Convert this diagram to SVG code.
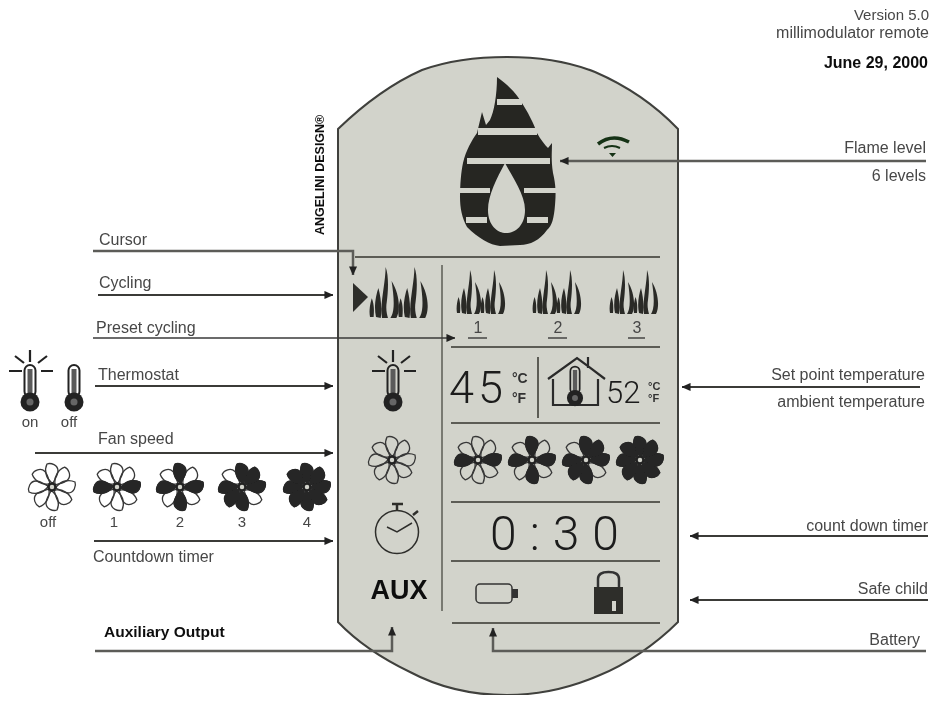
<svg xmlns="http://www.w3.org/2000/svg" xmlns:xlink="http://www.w3.org/1999/xlink" width="937" height="724" viewBox="0 0 937 724">
<style>
text{font-family:"Liberation Sans",Arial,sans-serif;fill:#474747}
.l{font-size:16px}
.r{text-anchor:end}
.m{text-anchor:middle}
.c{fill:none;stroke:#3a3a38;stroke-width:2.2}
.g{fill:none;stroke:#5c5c58;stroke-width:2.500}
.d{fill:none;stroke:#5b5c55;stroke-width:2}
.dig{font-family:Roboto,"Liberation Sans",sans-serif;font-weight:300;fill:#1b1b1b}
.bo{fill:none;stroke:#383838;stroke-width:1.300}
.bf{fill:#262626;stroke:#262626;stroke-width:1}
.unit{fill:#333;font-weight:bold}
.k{fill:#111;font-weight:bold}
</style>
<defs>
<filter id="soft" x="0" y="0" width="100%" height="100%"><feGaussianBlur stdDeviation="0.4"/></filter>
<marker id="a" viewBox="0 0 10 10" refX="9.500" refY="5" markerWidth="9" markerHeight="9" markerUnits="userSpaceOnUse" orient="auto"><path d="M0,0.500 L10,5 L0,9.500 Z" fill="#222"/></marker>
<path id="b" d="M-1,-5 C-6,-9 -8,-17 -5,-23 C-1,-24.500 6,-22 6,-16 C6,-12 3,-8 1,-4 Z"/>
<g id="fo"><g class="bo">
<use xlink:href="#b"/><use xlink:href="#b" transform="rotate(45)"/><use xlink:href="#b" transform="rotate(90)"/><use xlink:href="#b" transform="rotate(135)"/><use xlink:href="#b" transform="rotate(180)"/><use xlink:href="#b" transform="rotate(225)"/><use xlink:href="#b" transform="rotate(270)"/><use xlink:href="#b" transform="rotate(315)"/></g>
<circle r="3.500" fill="#d2d3cb" stroke="#222" stroke-width="2.500"/></g>
<g id="f1"><use xlink:href="#fo"/><g class="bf"><use xlink:href="#b" transform="rotate(90)"/><use xlink:href="#b" transform="rotate(270)"/></g></g>
<g id="f2"><use xlink:href="#f1"/><g class="bf"><use xlink:href="#b"/><use xlink:href="#b" transform="rotate(180)"/></g></g>
<g id="f3"><use xlink:href="#f2"/><g class="bf"><use xlink:href="#b" transform="rotate(45)"/><use xlink:href="#b" transform="rotate(225)"/></g></g>
<g id="f4"><use xlink:href="#f3"/><g class="bf"><use xlink:href="#b" transform="rotate(135)"/><use xlink:href="#b" transform="rotate(315)"/></g></g>
<path id="h" fill="#2a2a28" d="M0,43 C-1,38 0,32 1.500,27 C3.500,32 3.500,38 3,43 Z M5,43 C3,34 5,24 7,18 C9,26 10,34 9,44 Z M10,44 C8,32 13,14 13,0 C16,8 15,22 14,30 C13,36 14,40 15,44 Z M17,44 C21,38 20,26 18,12 C24,22 26,36 22,44 Z"/>
<g id="sm"><use xlink:href="#h"/><use xlink:href="#h" x="24"/></g>
<g id="th"><rect x="-5.500" y="-24" width="11" height="32" rx="5.500" fill="none" stroke="#222" stroke-width="2"/><rect x="-2.500" y="-20" width="5" height="26" fill="#5a5a5a"/><circle cy="13" r="9.500" fill="#222"/><circle cy="13" r="3.500" fill="#666"/></g>
<path id="rays" stroke="#222" stroke-width="2.200" fill="none" d="M0,-39V-27M-21,-18H-8M11,-18H23M-15,-33L-6,-26M17,-33L8,-26"/>
</defs>
<rect width="937" height="724" fill="#fff"/>
<g filter="url(#soft)">
<g id="body"><path d="M338,129 C365,103 395,82 422,70 C450,60 480,57 507,57 C535,57 565,60 595,72 C625,85 655,105 678,129 V622 C655,645 625,665 600,675 C570,688 540,695 507,695 C475,695 440,688 410,672 C385,660 360,645 338,622 Z" fill="#d2d3cb" stroke="#3f403c" stroke-width="2"/></g>
<g id="dividers">
<path class="d" d="M355,257H660"/>
<path class="d" d="M442,265V611" style="stroke-width:1.500"/>
<path class="d" d="M451,347H660M451,423H660M451,502H660M451,561H660M452,623H660M538,357V418"/>
</g>
<g id="flame"><path fill="#262624" d="M497,77 C507,84 515,92 520,100 C528,112 534,124 537,133 C541,140 545,145 548,148 L552,143 C552,152 551,160 553,173 C556,185 556,195 555,205 C554,218 552,226 547,230 C540,240 530,245 520,245 L500,246 C490,245 478,238 467,227 C462,218 460,208 460,197 C460,185 461,172 463,163 C466,150 472,140 477,133 L482,112 L486,125 L490,120 C494,112 497,95 497,77 Z"/>
<path fill="#d2d3cb" d="M505,163 C497,178 488,195 488,210 C488,226 498,233 506,233 C516,233 525,225 525,210 C525,195 513,178 505,163 Z"/>
<g fill="#d2d3cb"><rect x="497" y="99" width="25" height="6"/><rect x="478" y="128" width="59" height="7"/><rect x="467" y="158" width="83" height="6"/><rect x="460" y="188" width="30" height="5"/><rect x="524" y="188" width="33" height="5"/><rect x="466" y="217" width="21" height="6"/><rect x="527" y="217" width="21" height="6"/></g></g>
<g id="wifi" fill="none" stroke="#143214" stroke-width="3.500"><path d="M598,144 Q612,133 629,142"/><path d="M604,148 Q612,144 620,148" style="stroke-width:2"/><path d="M609,153H616L612.500,157Z" fill="#143214" stroke="none"/></g>
<g id="cycling-icons">
<path d="M353,283 L368,297 L353,312 Z" fill="#2d2d2b"/>
<use xlink:href="#sm" transform="translate(370,267) scale(1.200,1.160)"/>
<use xlink:href="#sm" x="457" y="270"/>
<use xlink:href="#sm" x="533" y="270"/>
<use xlink:href="#sm" x="610" y="270"/>
<text class="m l" x="478" y="333">1</text><text class="m l" x="558" y="333">2</text><text class="m l" x="637" y="333">3</text>
<path d="M468,338H487M548,338H567M628,338H645" stroke="#444" stroke-width="1.500"/>
</g>
<g id="thermostat-icon"><use xlink:href="#th" x="393" y="389"/><use xlink:href="#rays" x="393" y="389"/></g>
<g id="setpoint">
<text class="dig" x="449" y="403" style="font-size:45px;letter-spacing:4px">45</text>
<text class="unit" x="512" y="383" style="font-size:14px">°C</text><text class="unit" x="512" y="403" style="font-size:14px">°F</text>
<path d="M553,379V405H598V379 M548,379L577,358L605,379 M588,368V357" fill="none" stroke="#2a2a2a" stroke-width="2.200"/>
<use xlink:href="#th" transform="translate(575,387) scale(.85)"/>
<text class="dig" x="606" y="403" style="font-size:31px">52</text>
<text class="unit" x="648" y="390" style="font-size:11px">°C</text><text class="unit" x="648" y="402" style="font-size:11px">°F</text>
</g>
<g id="fans">
<use xlink:href="#fo" x="392" y="460"/><use xlink:href="#f1" x="478" y="460"/><use xlink:href="#f2" x="532" y="460"/><use xlink:href="#f3" x="586" y="460"/><use xlink:href="#f4" x="640" y="460"/>
</g>
<g id="timer"><circle cx="397" cy="532" r="21.500" fill="none" stroke="#2d2d2b" stroke-width="1.500"/><path d="M387,527L397,532L412,523" fill="none" stroke="#2d2d2b" stroke-width="1.500"/><path d="M397,510V505M392,504H403M413,515L418,511" stroke="#2d2d2b" stroke-width="2.500"/>
<text class="dig" x="490" y="550" style="font-size:48px;letter-spacing:13px">0:30</text></g>
<g id="aux"><text class="m k" x="399" y="599" style="font-size:27px">AUX</text></g>
<g id="battery"><rect x="476" y="584" width="36" height="19" rx="4" fill="none" stroke="#333" stroke-width="1.500"/><rect x="512" y="589" width="6" height="9" fill="#333"/></g>
<g id="lock"><path d="M598,587V579Q598,572 608.500,572Q619,572 619,579V587" fill="none" stroke="#333" stroke-width="2.500"/><rect x="594" y="587" width="29" height="27" fill="#2d2d2b"/><rect x="612" y="601" width="4" height="10" fill="#d2d3cb"/></g>
<g id="left-icons"><use xlink:href="#th" x="30" y="389"/><use xlink:href="#rays" x="30" y="389"/><use xlink:href="#th" x="74" y="389"/><text class="m l" x="30" y="427" style="font-size:15px">on</text><text class="m l" x="69" y="427" style="font-size:15px">off</text>
<use xlink:href="#fo" x="52" y="487"/><use xlink:href="#f1" x="117" y="487"/><use xlink:href="#f2" x="180" y="487"/><use xlink:href="#f3" x="242" y="487"/><use xlink:href="#f4" x="307" y="487"/>
<text class="m l" x="48" y="527" style="font-size:15px">off</text><text class="m l" x="114" y="527" style="font-size:15px">1</text><text class="m l" x="180" y="527" style="font-size:15px">2</text><text class="m l" x="242" y="527" style="font-size:15px">3</text><text class="m l" x="307" y="527" style="font-size:15px">4</text></g>
<g id="connectors">
<path class="g" d="M93,251H353V275" marker-end="url(#a)"/>
<path class="c" d="M98,295H333" marker-end="url(#a)"/>
<path class="c" d="M93,338H455" marker-end="url(#a)" style="stroke-width:1.500"/>
<path class="c" d="M95,386H333" marker-end="url(#a)"/>
<path class="c" d="M35,453H333" marker-end="url(#a)"/>
<path class="c" d="M94,541H333" marker-end="url(#a)"/>
<path class="g" d="M95,651H392V627" marker-end="url(#a)"/>
<path class="g" d="M926,651H493V628" marker-end="url(#a)"/>
<path class="g" d="M926,161H560" marker-end="url(#a)"/>
<path class="c" d="M920,387H682" marker-end="url(#a)"/>
<path class="c" d="M928,536H690" marker-end="url(#a)"/>
<path class="c" d="M928,600H690" marker-end="url(#a)"/>
</g>
<g id="labels">
<text class="r" x="929" y="20" style="font-size:15px">Version 5.0</text>
<text class="r l" x="929" y="38">millimodulator remote</text>
<text class="r k" x="928" y="68" style="font-size:16px">June 29, 2000</text>
<text class="r l" x="926" y="153">Flame level</text><text class="r l" x="926" y="181">6 levels</text>
<text class="r l" x="925" y="380">Set point temperature</text><text class="r l" x="925" y="407">ambient temperature</text>
<text class="r l" x="928" y="531">count down timer</text><text class="r l" x="928" y="594">Safe child</text><text class="r l" x="920" y="645">Battery</text>
<text class="l" x="99" y="245">Cursor</text><text class="l" x="99" y="288">Cycling</text><text class="l" x="96" y="333">Preset cycling</text><text class="l" x="98" y="380">Thermostat</text><text class="l" x="98" y="444">Fan speed</text><text class="l" x="93" y="562">Countdown timer</text>
<text class="k" x="104" y="637" style="font-size:15.500px">Auxiliary Output</text>
<text class="k" transform="translate(324,235) rotate(-90)" style="font-size:12.500px">ANGELINI DESIGN®</text>
</g>
</g>
</svg>
